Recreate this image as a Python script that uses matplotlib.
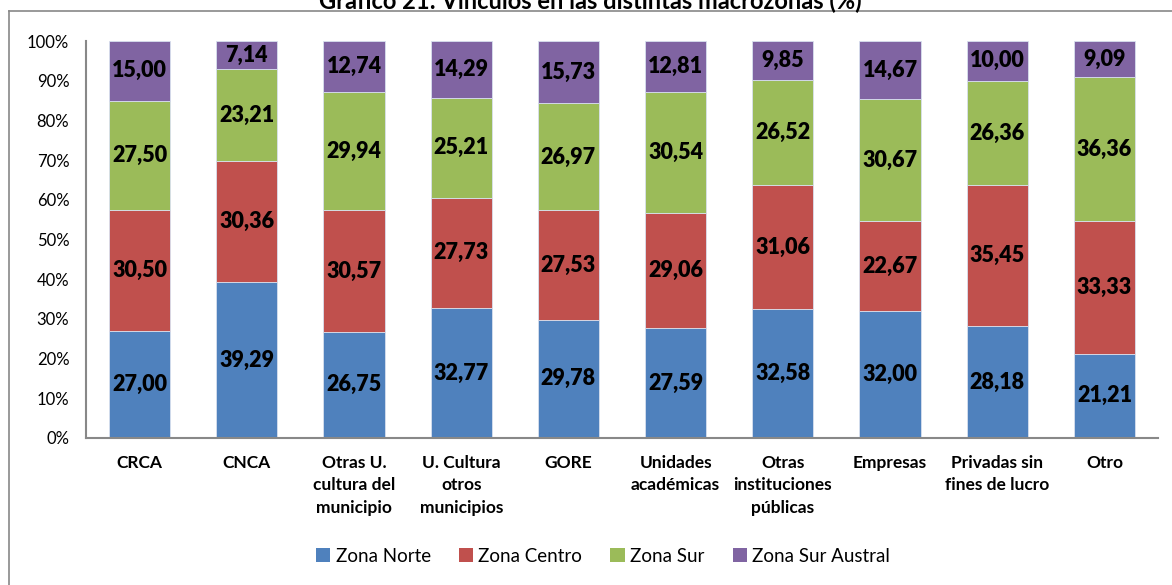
import matplotlib
matplotlib.use('Agg')
import matplotlib.pyplot as plt
from matplotlib.lines import Line2D
from matplotlib.patches import Patch
import numpy as np

plt.rcParams['font.family'] = ['Lato', 'DejaVu Sans']

categories = ['CRCA', 'CNCA', 'Otras U.\ncultura del\nmunicipio', 'U. Cultura\notros\nmunicipios',
              'GORE', 'Unidades\nacadémicas', 'Otras\ninstituciones\npúblicas', 'Empresas',
              'Privadas sin\nfines de lucro', 'Otro']
zona_norte = [27.00, 39.29, 26.75, 32.77, 29.78, 27.59, 32.58, 32.00, 28.18, 21.21]
zona_centro = [30.50, 30.36, 30.57, 27.73, 27.53, 29.06, 31.06, 22.67, 35.45, 33.33]
zona_sur = [27.50, 23.21, 29.94, 25.21, 26.97, 30.54, 26.52, 30.67, 26.36, 36.36]
zona_austral = [15.00, 7.14, 12.74, 14.29, 15.73, 12.81, 9.85, 14.67, 10.00, 9.09]

series = [('Zona Norte', zona_norte, '#4F81BD'),
          ('Zona Centro', zona_centro, '#C0504D'),
          ('Zona Sur', zona_sur, '#9BBB59'),
          ('Zona Sur Austral', zona_austral, '#8064A2')]

fig = plt.figure(figsize=(11.72, 5.85), dpi=100)
ax = fig.add_axes([86 / 1172, 1 - 438 / 585, (1158 - 86) / 1172, (438 - 41) / 585])

x = np.arange(len(categories))
bottom = np.zeros(len(categories))
for name, vals, color in series:
    vals = np.array(vals)
    ax.bar(x, vals, 0.57, bottom=bottom, color=color, edgecolor='#d8e0ee', linewidth=0.6,
           label=name)
    for xi, b, v in zip(x, bottom, vals):
        ax.text(xi, b + v / 2, f"{v:.2f}".replace('.', ','), ha='center', va='center',
                fontsize=15.5, fontweight='heavy', color='black')
    bottom += vals

ax.set_xlim(-0.5, len(categories) - 0.5)
ax.set_ylim(0, 100)
ax.set_yticks(range(0, 101, 10))
ax.set_yticklabels([f"{t}%" for t in range(0, 101, 10)], fontsize=12)
ax.set_xticks(x)
ax.set_xticklabels(categories, fontsize=12.5, fontweight='bold', linespacing=1.5, va='top')
ax.tick_params(axis='y', length=0, pad=12)
ax.tick_params(axis='x', length=0, pad=12)
for s in ['top', 'right']:
    ax.spines[s].set_visible(False)
for s in ['left', 'bottom']:
    ax.spines[s].set_color('#888888')
    ax.spines[s].set_linewidth(1.5)

# Title (partially cut off at the top like the original)
fig.text(590 / 1172, 1 - 1 / 585, 'Gráfico 21: Vínculos en las distintas macrozonas (%)',
         ha='center', va='center', fontsize=17, fontweight='bold')

# Border of the chart frame
fig.add_artist(Line2D([9 / 1172, 9 / 1172], [0, 1 - 11 / 585], transform=fig.transFigure,
                      color='#888888', lw=1.2))
fig.add_artist(Line2D([9 / 1172, 1], [1 - 11 / 585, 1 - 11 / 585], transform=fig.transFigure,
                      color='#888888', lw=1.2))

handles = [Patch(facecolor=c, label=n) for n, _, c in series]
fig.legend(handles=handles, loc='center', bbox_to_anchor=(603 / 1172, 1 - 556 / 585),
           ncol=4, frameon=False, fontsize=13.5, handlelength=0.75, handleheight=0.75,
           handletextpad=0.3, columnspacing=1.5)

fig.savefig('out.png', dpi=100)
